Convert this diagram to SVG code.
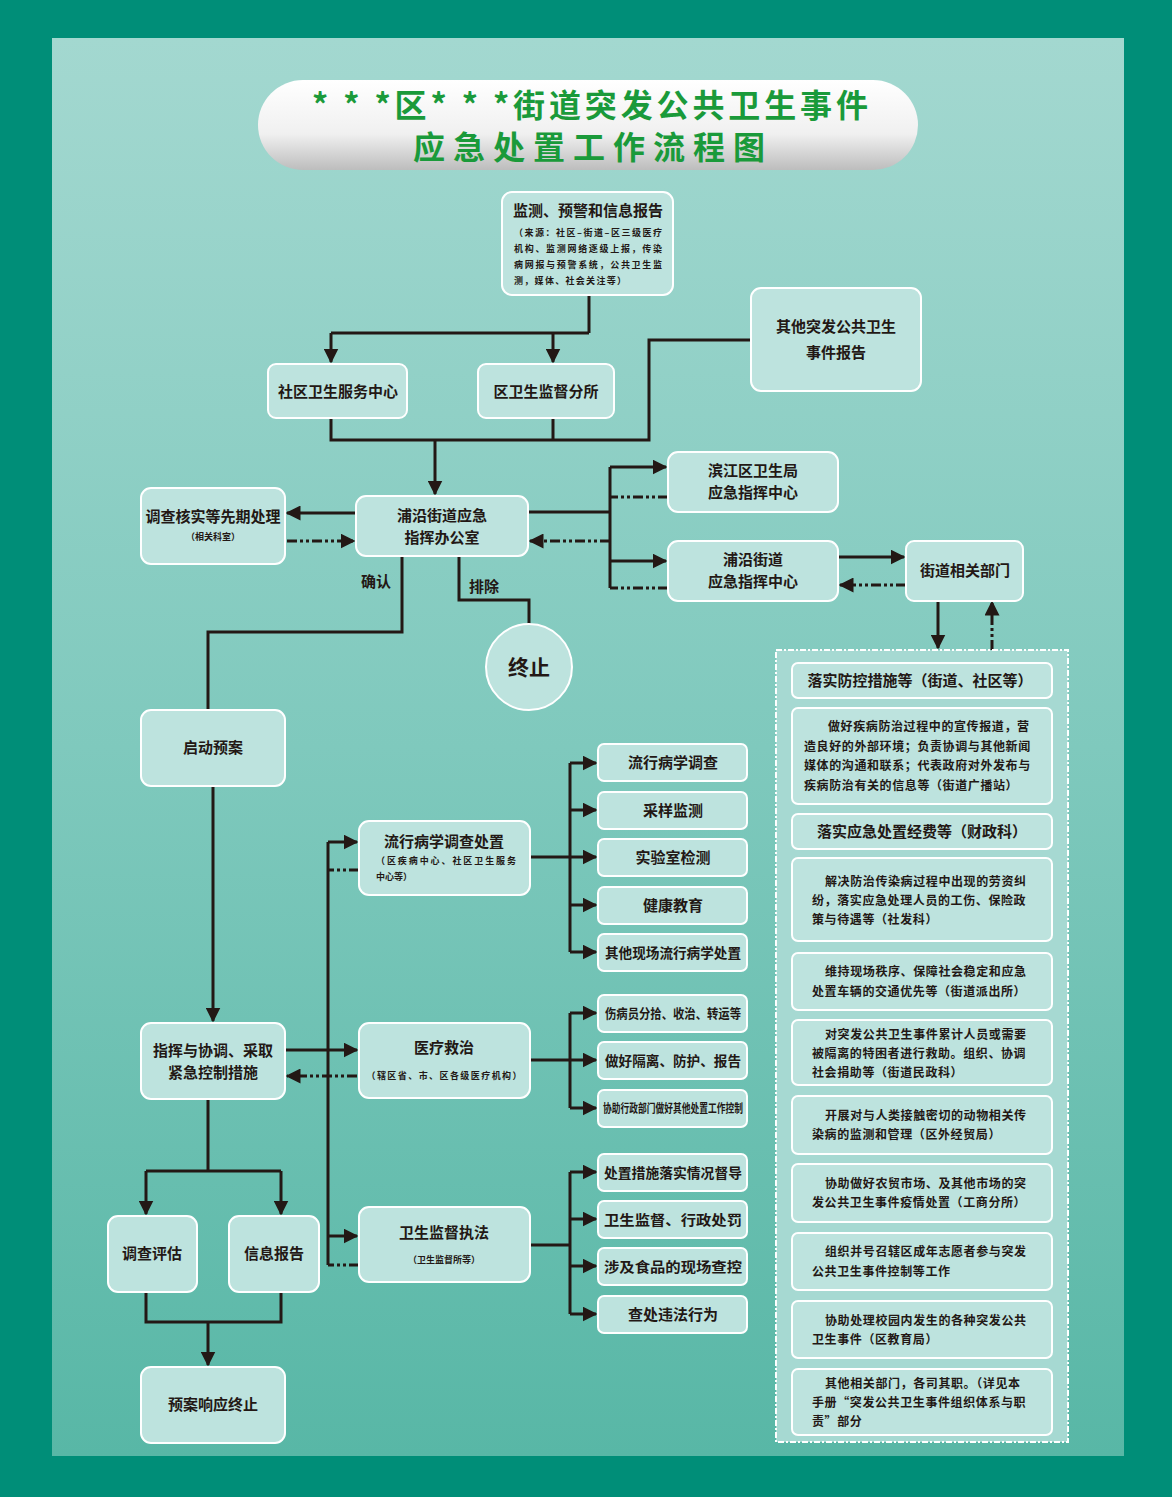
<svg xmlns="http://www.w3.org/2000/svg" width="1172" height="1497" viewBox="0 0 1172 1497">
<defs>
<linearGradient id="bg" x1="0" y1="0" x2="0" y2="1"><stop offset="0" stop-color="#a3d8d0"/><stop offset="0.5" stop-color="#7fc9bd"/><stop offset="1" stop-color="#58b7a6"/></linearGradient>
<linearGradient id="pill" x1="0" y1="0" x2="0" y2="1"><stop offset="0" stop-color="#ffffff"/><stop offset="0.6" stop-color="#f0f0f0"/><stop offset="1" stop-color="#bdbdbd"/></linearGradient>
<marker id="a" viewBox="0 0 10 10" refX="9" refY="5" markerWidth="5" markerHeight="5" orient="auto" markerUnits="strokeWidth"><path d="M0,0 L10,5 L0,10 z" fill="#231815"/></marker>
</defs>
<style>
.n{fill:#bde3de;stroke:#fff;stroke-width:2}
.t{font-family:"Noto Sans CJK SC","Noto Sans",sans-serif;fill:#231815;text-anchor:middle;font-weight:bold}
.m{font-size:15px}.s{font-size:9px}.r{font-size:12px;letter-spacing:0.6px}
.c{fill:none;stroke:#231815;stroke-width:3}
.d{fill:none;stroke:#231815;stroke-width:3;stroke-dasharray:10 3 3 3 3 3}
.ar{marker-end:url(#a)}
</style>
<rect width="1172" height="1497" fill="#008e78"/>
<rect x="52" y="38" width="1072" height="1418" fill="url(#bg)"/>
<g id="title">
<rect x="258" y="80" width="660" height="90" rx="45" fill="url(#pill)"/>
<text x="312" y="117" font-family="Noto Sans CJK SC,sans-serif" font-size="32" font-weight="bold" fill="#1a9a3a" textLength="556" lengthAdjust="spacing">* * *区* * *街道突发公共卫生事件</text>
<text x="413" y="159" font-family="Noto Sans CJK SC,sans-serif" font-size="32" font-weight="bold" fill="#1a9a3a" textLength="352" lengthAdjust="spacing">应急处置工作流程图</text>
</g>
<g id="connectors">
<path class="c" d="M589,295 V333 M331,333 H589"/>
<path class="c ar" d="M331,333 V362"/><path class="c ar" d="M553,333 V362"/>
<path class="c" d="M331,418 V440 H649 V340 H751 M553,418 V440"/>
<path class="c ar" d="M435,440 V494"/>
<path class="c ar" d="M356,513 H287"/>
<path class="d ar" d="M287,541 H354"/>
<path class="c" d="M528,512 H610 M610,467 V588"/>
<path class="c ar" d="M610,467 H666"/><path class="d" d="M668,497 H610"/>
<path class="c ar" d="M610,561 H666"/><path class="d" d="M668,588 H610"/>
<path class="d ar" d="M610,541 H530"/>
<path class="c ar" d="M838,557 H904"/>
<path class="d ar" d="M906,585 H840"/>
<path class="c ar" d="M938,600 V648"/>
<path class="d ar" d="M992,650 V602"/>
<path class="c" d="M402,556 V632 H208 V710"/>
<path class="c" d="M459,556 V600 H529 V624"/>
<path class="c ar" d="M213,786 V1021"/>
<path class="c ar" d="M285,1050 H357"/>
<path class="d ar" d="M357,1076 H287"/>
<path class="c" d="M328,842 V1265"/>
<path class="c ar" d="M328,842 H357"/><path class="d" d="M359,870 H328"/>
<path class="c ar" d="M328,1236 H357"/><path class="d" d="M359,1265 H328"/>
<path class="c" d="M530,857 H570 M570,763 V952"/>
<path class="c ar" d="M570,763 H596"/><path class="c ar" d="M570,810 H596"/><path class="c ar" d="M570,857 H596"/><path class="c ar" d="M570,905 H596"/><path class="c ar" d="M570,952 H596"/>
<path class="c" d="M530,1060 H570 M570,1013 V1108"/>
<path class="c ar" d="M570,1013 H596"/><path class="c ar" d="M570,1060 H596"/><path class="c ar" d="M570,1108 H596"/>
<path class="c" d="M530,1245 H570 M570,1172 V1314"/>
<path class="c ar" d="M570,1172 H596"/><path class="c ar" d="M570,1219 H596"/><path class="c ar" d="M570,1266 H596"/><path class="c ar" d="M570,1314 H596"/>
<path class="c" d="M208,1099 V1171 M146,1171 H281"/>
<path class="c ar" d="M146,1171 V1214"/><path class="c ar" d="M281,1171 V1214"/>
<path class="c" d="M146,1292 V1322 H281 V1292"/>
<path class="c ar" d="M208,1322 V1365"/>
</g>
<g id="labels">
<text class="t m" x="376" y="587">确认</text>
<text class="t m" x="484" y="592">排除</text>
</g>
<g id="monitor"><rect class="n" x="502" y="192" width="171" height="103" rx="10"/>
<text class="t m" x="588" y="216">监测、预警和信息报告</text>
<text class="t s" x="588" y="236" textLength="148">（来源：社区–街道–区三级医疗</text>
<text class="t s" x="588" y="252" textLength="148">机构、监测网络逐级上报，传染</text>
<text class="t s" x="588" y="268" textLength="148">病网报与预警系统，公共卫生监</text>
<text class="t s" x="570" y="284" textLength="112">测，媒体、社会关注等）</text></g>
<g id="other"><rect class="n" x="751" y="288" width="170" height="103" rx="10"/>
<text class="t m" x="836" y="332">其他突发公共卫生</text><text class="t m" x="836" y="358">事件报告</text></g>
<g id="sq"><rect class="n" x="268" y="364" width="139" height="54" rx="8"/><text class="t m" x="338" y="397">社区卫生服务中心</text></g>
<g id="qw"><rect class="n" x="478" y="364" width="136" height="54" rx="8"/><text class="t m" x="546" y="397">区卫生监督分所</text></g>
<g id="office"><rect class="n" x="356" y="496" width="172" height="60" rx="10"/><text class="t m" x="442" y="521">浦沿街道应急</text><text class="t m" x="442" y="543">指挥办公室</text></g>
<g id="survey"><rect class="n" x="141" y="488" width="144" height="76" rx="10"/><text class="t m" x="213" y="522">调查核实等先期处理</text><text class="t s" x="213" y="540">（相关科室）</text></g>
<g id="bj"><rect class="n" x="668" y="452" width="170" height="60" rx="10"/><text class="t m" x="753" y="476">滨江区卫生局</text><text class="t m" x="753" y="498">应急指挥中心</text></g>
<g id="py"><rect class="n" x="668" y="541" width="170" height="60" rx="10"/><text class="t m" x="753" y="565">浦沿街道</text><text class="t m" x="753" y="587">应急指挥中心</text></g>
<g id="dept"><rect class="n" x="906" y="541" width="117" height="60" rx="8"/><text class="t m" x="965" y="576">街道相关部门</text></g>
<g id="stop"><circle class="n" cx="529" cy="667" r="43"/><text class="t" font-size="21" x="529" y="675">终止</text></g>
<g id="start"><rect class="n" x="141" y="710" width="144" height="76" rx="10"/><text class="t m" x="213" y="753">启动预案</text></g>
<g id="cmd"><rect class="n" x="141" y="1023" width="144" height="76" rx="10"/><text class="t m" x="213" y="1056">指挥与协调、采取</text><text class="t m" x="213" y="1078">紧急控制措施</text></g>
<g id="eval"><rect class="n" x="108" y="1216" width="89" height="76" rx="10"/><text class="t m" x="152" y="1259">调查评估</text></g>
<g id="info"><rect class="n" x="229" y="1216" width="90" height="76" rx="10"/><text class="t m" x="274" y="1259">信息报告</text></g>
<g id="end"><rect class="n" x="141" y="1367" width="144" height="76" rx="10"/><text class="t m" x="213" y="1410">预案响应终止</text></g>
<g id="epi"><rect class="n" x="359" y="821" width="171" height="74" rx="10"/><text class="t m" x="444" y="847">流行病学调查处置</text><text class="t s" x="446" y="864" textLength="140">（区疾病中心、社区卫生服务</text><text class="t s" x="394" y="880">中心等）</text></g>
<g id="med"><rect class="n" x="359" y="1023" width="171" height="75" rx="10"/><text class="t m" x="444" y="1053">医疗救治</text><text class="t s" x="444" y="1079" textLength="155">（辖区省、市、区各级医疗机构）</text></g>
<g id="sup"><rect class="n" x="359" y="1207" width="171" height="75" rx="10"/><text class="t m" x="444" y="1238">卫生监督执法</text><text class="t s" x="444" y="1263">（卫生监督所等）</text></g>
<g id="leaves">
<g id="l1"><rect class="n" x="598" y="744" width="149" height="37" rx="6"/><text class="t m" x="673" y="768">流行病学调查</text></g>
<g id="l2"><rect class="n" x="598" y="792" width="149" height="37" rx="6"/><text class="t m" x="673" y="816">采样监测</text></g>
<g id="l3"><rect class="n" x="598" y="839" width="149" height="37" rx="6"/><text class="t m" x="673" y="863">实验室检测</text></g>
<g id="l4"><rect class="n" x="598" y="887" width="149" height="37" rx="6"/><text class="t m" x="673" y="911">健康教育</text></g>
<g id="l5"><rect class="n" x="598" y="934" width="149" height="37" rx="6"/><text class="t" font-size="14" x="673" y="958" textLength="136" lengthAdjust="spacingAndGlyphs">其他现场流行病学处置</text></g>
<g id="l6"><rect class="n" x="598" y="995" width="149" height="37" rx="6"/><text class="t" font-size="13" x="673" y="1018" textLength="136" lengthAdjust="spacingAndGlyphs">伤病员分拾、收治、转运等</text></g>
<g id="l7"><rect class="n" x="598" y="1042" width="149" height="37" rx="6"/><text class="t" font-size="14" x="673" y="1066" textLength="136" lengthAdjust="spacingAndGlyphs">做好隔离、防护、报告</text></g>
<g id="l8"><rect class="n" x="598" y="1090" width="149" height="37" rx="6"/><text class="t" font-size="12" x="673" y="1113" textLength="140" lengthAdjust="spacingAndGlyphs">协助行政部门做好其他处置工作控制</text></g>
<g id="l9"><rect class="n" x="598" y="1154" width="149" height="37" rx="6"/><text class="t" font-size="14" x="673" y="1178" textLength="138" lengthAdjust="spacingAndGlyphs">处置措施落实情况督导</text></g>
<g id="l10"><rect class="n" x="598" y="1201" width="149" height="37" rx="6"/><text class="t" font-size="14" x="673" y="1225" textLength="138" lengthAdjust="spacingAndGlyphs">卫生监督、行政处罚</text></g>
<g id="l11"><rect class="n" x="598" y="1248" width="149" height="37" rx="6"/><text class="t" font-size="14" x="673" y="1272" textLength="138" lengthAdjust="spacingAndGlyphs">涉及食品的现场查控</text></g>
<g id="l12"><rect class="n" x="598" y="1296" width="149" height="37" rx="6"/><text class="t m" x="673" y="1320">查处违法行为</text></g>
</g>
<g id="panel">
<rect x="776" y="650" width="292" height="792" fill="#a6d9d2" stroke="#fff" stroke-width="2" stroke-dasharray="6 2 2 2"/>
<g id="p1"><rect class="n" x="792" y="663" width="260" height="35" rx="6"/><text class="t m" x="920" y="686">落实防控措施等（街道、社区等）</text></g>
<g id="p2"><rect class="n" x="792" y="708" width="260" height="96" rx="6"/><text class="t r" style="text-anchor:start"><tspan x="828" y="731">做好疾病防治过程中的宣传报道，营</tspan><tspan x="804" y="751">造良好的外部环境；负责协调与其他新闻</tspan><tspan x="804" y="770">媒体的沟通和联系；代表政府对外发布与</tspan><tspan x="804" y="790">疾病防治有关的信息等（街道广播站）</tspan></text></g>
<g id="p3"><rect class="n" x="792" y="814" width="260" height="35" rx="6"/><text class="t m" x="922" y="837">落实应急处置经费等（财政科）</text></g>
<g id="p4"><rect class="n" x="792" y="858" width="260" height="83" rx="6"/><text class="t r" style="text-anchor:start"><tspan x="825" y="886">解决防治传染病过程中出现的劳资纠</tspan><tspan x="812" y="905">纷，落实应急处理人员的工伤、保险政</tspan><tspan x="812" y="924">策与待遇等（社发科）</tspan></text></g>
<g id="p5"><rect class="n" x="792" y="953" width="260" height="57" rx="6"/><text class="t r" style="text-anchor:start"><tspan x="825" y="976">维持现场秩序、保障社会稳定和应急</tspan><tspan x="812" y="996">处置车辆的交通优先等（街道派出所）</tspan></text></g>
<g id="p6"><rect class="n" x="792" y="1020" width="260" height="65" rx="6"/><text class="t r" style="text-anchor:start"><tspan x="825" y="1039">对突发公共卫生事件累计人员或需要</tspan><tspan x="812" y="1058">被隔离的特困者进行救助。组织、协调</tspan><tspan x="812" y="1077">社会捐助等（街道民政科）</tspan></text></g>
<g id="p7"><rect class="n" x="792" y="1096" width="260" height="58" rx="6"/><text class="t r" style="text-anchor:start"><tspan x="825" y="1120">开展对与人类接触密切的动物相关传</tspan><tspan x="812" y="1139">染病的监测和管理（区外经贸局）</tspan></text></g>
<g id="p8"><rect class="n" x="792" y="1164" width="260" height="58" rx="6"/><text class="t r" style="text-anchor:start"><tspan x="825" y="1188">协助做好农贸市场、及其他市场的突</tspan><tspan x="812" y="1207">发公共卫生事件疫情处置（工商分所）</tspan></text></g>
<g id="p9"><rect class="n" x="792" y="1233" width="260" height="57" rx="6"/><text class="t r" style="text-anchor:start"><tspan x="825" y="1256">组织并号召辖区成年志愿者参与突发</tspan><tspan x="812" y="1276">公共卫生事件控制等工作</tspan></text></g>
<g id="p10"><rect class="n" x="792" y="1301" width="260" height="57" rx="6"/><text class="t r" style="text-anchor:start"><tspan x="825" y="1325">协助处理校园内发生的各种突发公共</tspan><tspan x="812" y="1344">卫生事件（区教育局）</tspan></text></g>
<g id="p11"><rect class="n" x="792" y="1369" width="260" height="66" rx="6"/><text class="t r" style="text-anchor:start"><tspan x="825" y="1388">其他相关部门，各司其职。（详见本</tspan><tspan x="812" y="1407">手册“突发公共卫生事件组织体系与职</tspan><tspan x="812" y="1426">责”部分</tspan></text></g>
</g>
</svg>
